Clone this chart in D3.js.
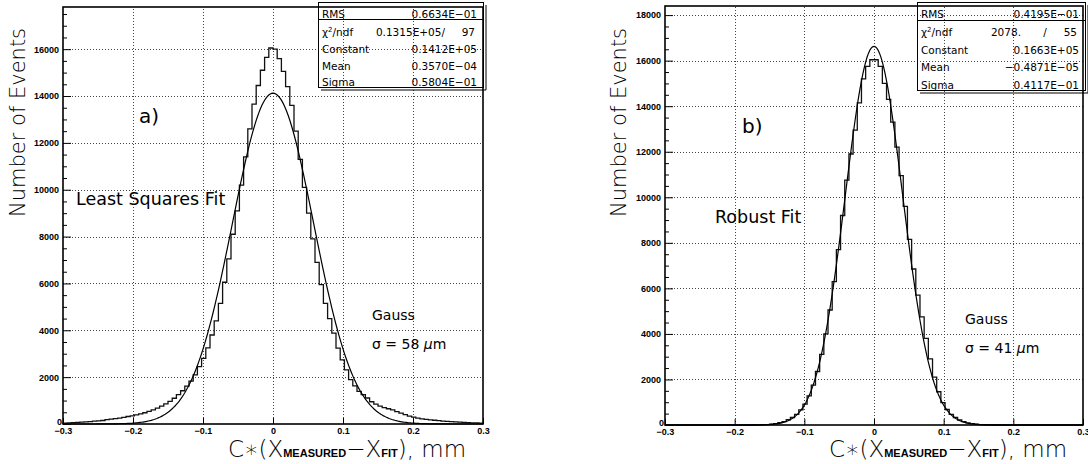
<!DOCTYPE html>
<html>
<head>
<meta charset="utf-8">
<script src="https://cdn.jsdelivr.net/npm/d3@7"></script>
<style>
body { margin: 0; background: #fff; }
svg { display: block; font-family: "DejaVu Sans", sans-serif; }
</style>
</head>
<body>
<div id="root"></div>
<script>
// histogram binning: 100 bins over [-0.3, 0.3]
var binLow = -0.3, binHigh = 0.3, binWidth = 0.006;

var xTicks = [-0.3, -0.2, -0.1, 0, 0.1, 0.2, 0.3];
var xTickLabels = ["\u22120.3", "\u22120.2", "\u22120.1", "0", "0.1", "0.2", "0.3"];
var leftYTicks = [0, 2000, 4000, 6000, 8000, 10000, 12000, 14000, 16000];
var rightYTicks = [0, 2000, 4000, 6000, 8000, 10000, 12000, 14000, 16000, 18000];

// a) least squares residuals
var leftCounts = [
  40, 50, 60, 70, 80, 90, 100, 120, 130, 150,
  190, 210, 230, 250, 280, 320, 350, 390, 430, 480,
  540, 600, 680, 760, 860, 970, 1100, 1250, 1420, 1620,
  1830, 2100, 2450, 2800, 3250, 3800, 4400, 5150, 6050, 7050,
  8100, 9100, 10200, 11400, 12600, 13650, 14450, 15100, 15650, 16050,
  16000, 15600, 15050, 14400, 13600, 12500, 11300, 10100, 9000, 7900,
  6900, 5950, 5150, 4500, 3880, 3240, 2740, 2310, 1890, 1630,
  1390, 1250, 1110, 950, 850, 760, 700, 650, 600, 530,
  460, 400, 340, 290, 250, 220, 200, 180, 160, 140,
  120, 110, 100, 90, 80, 70, 60, 50, 45, 40
];

// b) robust fit residuals
var rightCounts = [
  0, 0, 0, 0, 0, 0, 0, 0, 0, 0,
  0, 0, 0, 0, 0, 0, 0, 0, 0, 0,
  0, 0, 5, 10, 20, 35, 60, 100, 150, 230,
  330, 470, 660, 920, 1280, 1750, 2350, 3100, 4000, 5050,
  6300, 7700, 9200, 10750, 11900, 12950, 14150, 15200, 15750, 16040,
  16040, 15750, 15000, 14300, 13300, 12200, 10950, 9600, 8150, 6850,
  5700, 4750, 3800, 2900, 2100, 1460, 980, 680, 470, 330,
  220, 150, 95, 60, 35, 20, 10, 5, 0, 0,
  0, 0, 0, 0, 0, 0, 0, 0, 0, 0,
  0, 0, 0, 0, 0, 0, 0, 0, 0, 0
];

// Gaussian fit parameters shown in the stat boxes: constant, mean, sigma
var leftFit = [14120, 0.0000357, 0.05804];
var rightFit = [16630, -0.000004871, 0.04117];

var statLabels = ["RMS", "\u03c7\u00b2/ndf", "Constant", "Mean", "Sigma"];
var leftStatValues = ["0.6634E\u221201", "0.1315E+05/", "0.1412E+05", "0.3570E\u221204", "0.5804E\u221201"];
var leftNdf = "97";
var rightStatValues = ["0.4195E\u221201", "2078.", "0.1663E+05", "\u22120.4871E\u221205", "0.4117E\u221201"];
var rightNdf = "55";

var w = 1088, h = 464;
var svg = d3.select("#root").append("svg").attr("width", w).attr("height", h);

var panels = [
  { left: 63, right: 483, top: 7, bottom: 424, ymax: 17800, yTicks: leftYTicks,
    counts: leftCounts, fit: leftFit, tag: "a)", tagX: 139, tagY: 123,
    method: "Least Squares Fit", methodX: 76, methodY: 205,
    gaussX: 372, gaussY: 320, sigmaText: "58",
    box: { x: 318, y: 2, w: 165, h: 85, rows: [14, 32, 49, 66, 82], line: 19 },
    chiEnd: 38, slashAt: 0,
    stats: leftStatValues, ndf: leftNdf, ytitleX: 25, xtitleX: 228 },
  { left: 665, right: 1083, top: 6, bottom: 425, ymax: 18400, yTicks: rightYTicks,
    counts: rightCounts, fit: rightFit, tag: "b)", tagX: 742, tagY: 133,
    method: "Robust Fit", methodX: 715, methodY: 223,
    gaussX: 965, gaussY: 324, sigmaText: "41",
    box: { x: 917, y: 2, w: 168, h: 88, rows: [14, 32, 50, 67, 85], line: 20 },
    chiEnd: 64, slashAt: 40,
    stats: rightStatValues, ndf: rightNdf, ytitleX: 626, xtitleX: 829 }
];

panels.forEach(function(p) {
  var x = d3.scaleLinear().domain([binLow, binHigh]).range([p.left, p.right]);
  var y = d3.scaleLinear().domain([0, p.ymax]).range([p.bottom, p.top]);
  var g = svg.append("g");

  // dotted grid
  g.selectAll(".vgrid").data(xTicks.slice(1, -1)).enter().append("line")
    .attr("x1", function(d) { return Math.round(x(d)) + 0.5; })
    .attr("x2", function(d) { return Math.round(x(d)) + 0.5; })
    .attr("y1", p.bottom).attr("y2", p.top)
    .attr("stroke", "#444").attr("stroke-dasharray", "1,2");
  g.selectAll(".hgrid").data(p.yTicks.slice(1)).enter().append("line")
    .attr("x1", p.left).attr("x2", p.right)
    .attr("y1", function(d) { return Math.round(y(d)) + 0.5; })
    .attr("y2", function(d) { return Math.round(y(d)) + 0.5; })
    .attr("stroke", "#444").attr("stroke-dasharray", "1,2");

  // histogram outline
  var pts = p.counts.map(function(c, i) { return [binLow + i * binWidth, c]; });
  pts.unshift([binLow, 0]);
  pts.push([binHigh, p.counts[p.counts.length - 1]]);
  var step = d3.line()
    .x(function(d) { return x(d[0]); })
    .y(function(d) { return y(d[1]); })
    .curve(d3.curveStepAfter);
  g.append("path").attr("d", step(pts))
    .attr("fill", "none").attr("stroke", "#111").attr("stroke-width", 1.3);

  // gaussian fit curve from the displayed parameters
  var fx = d3.range(-0.3, 0.3001, 0.002);
  var fitLine = d3.line()
    .x(function(d) { return x(d); })
    .y(function(d) {
      var z = (d - p.fit[1]) / p.fit[2];
      return y(p.fit[0] * Math.exp(-0.5 * z * z));
    });
  g.append("path").attr("d", fitLine(fx))
    .attr("fill", "none").attr("stroke", "#000").attr("stroke-width", 1.2);

  // axes: ticks inward, bold small labels
  var xAxis = d3.axisBottom(x).tickValues(xTicks)
    .tickFormat(function(d, i) { return xTickLabels[i]; })
    .tickSize(-6).tickPadding(4);
  var gx = g.append("g").attr("transform", "translate(0," + p.bottom + ")").call(xAxis);
  var yAxis = d3.axisLeft(y).tickValues(p.yTicks).tickFormat(d3.format("d"))
    .tickSize(-8).tickPadding(4);
  var gy = g.append("g").attr("transform", "translate(" + p.left + ",0)").call(yAxis);
  var minor = d3.range(500, p.ymax, 500).filter(function(v) { return v % 2000 !== 0; });
  g.append("g").attr("transform", "translate(" + p.left + ",0)")
    .call(d3.axisLeft(y).tickValues(minor).tickSize(-4).tickFormat(""))
    .select(".domain").remove();
  [gx, gy].forEach(function(a) {
    a.select(".domain").remove();
    a.selectAll("line").attr("stroke", "#000");
    a.selectAll("text").attr("font-family", "'Liberation Sans', Arial, sans-serif")
      .attr("font-weight", "bold").attr("font-size", 9).attr("fill", "#000");
  });
  gy.selectAll(".tick").filter(function(d) { return d === 0; }).select("text")
    .attr("x", -1).attr("dy", "0em");

  // frame
  g.append("rect").attr("x", p.left).attr("y", p.top)
    .attr("width", p.right - p.left).attr("height", p.bottom - p.top)
    .attr("fill", "none").attr("stroke", "#000").attr("stroke-width", 1.6);

  // stat box (transparent, with shadow edge)
  var b = p.box;
  g.append("rect").attr("x", b.x + 0.5).attr("y", b.y + 0.5).attr("width", b.w).attr("height", b.h)
    .attr("fill", "none").attr("stroke", "#000").attr("stroke-width", 1);
  g.append("polyline")
    .attr("points", (b.x + b.w + 3) + "," + (b.y + 3) + " " + (b.x + b.w + 3) + "," + (b.y + b.h + 3) + " " + (b.x + 3) + "," + (b.y + b.h + 3))
    .attr("fill", "none").attr("stroke", "#000").attr("stroke-width", 1);
  g.append("line").attr("x1", b.x).attr("x2", b.x + b.w).attr("y1", b.line + 0.5).attr("y2", b.line + 0.5)
    .attr("stroke", "#000");
  statLabels.forEach(function(lab, i) {
    var t = g.append("text").attr("x", b.x + 4).attr("y", b.rows[i] + 4)
      .attr("font-size", 10.5).attr("fill", "#000");
    if (i === 1) {
      t.append("tspan").text("\u03c7");
      t.append("tspan").attr("font-size", 7).attr("dy", -4).text("2");
      t.append("tspan").attr("dy", 4).text("/ndf");
    } else {
      t.text(lab);
    }
    var vx = (i === 1) ? b.x + b.w - p.chiEnd : b.x + b.w - 6;
    g.append("text").attr("x", vx).attr("y", b.rows[i] + 4)
      .attr("text-anchor", "end").attr("font-size", 10.5).attr("fill", "#000")
      .text(p.stats[i]);
  });
  if (p.slashAt) {
    g.append("text").attr("x", b.x + b.w - p.slashAt).attr("y", b.rows[1] + 4)
      .attr("text-anchor", "middle").attr("font-size", 10.5).text("/");
  }
  g.append("text").attr("x", b.x + b.w - 8).attr("y", b.rows[1] + 4)
    .attr("text-anchor", "end").attr("font-size", 10.5).text(p.ndf);

  // annotations
  g.append("text").attr("x", p.tagX).attr("y", p.tagY).attr("font-size", 20).attr("fill", "#000").text(p.tag);
  g.append("text").attr("x", p.methodX).attr("y", p.methodY).attr("font-size", 17.5).attr("fill", "#000").text(p.method);
  g.append("text").attr("x", p.gaussX).attr("y", p.gaussY).attr("font-size", 14).text("Gauss");
  var s = g.append("text").attr("x", p.gaussX).attr("y", p.gaussY + 29).attr("font-size", 14);
  s.append("tspan").text("\u03c3 = " + p.sigmaText + " ");
  s.append("tspan").attr("font-style", "italic").text("\u03bc");
  s.append("tspan").text("m");

  // axis titles
  g.append("text").attr("transform", "translate(" + p.ytitleX + "," + 217 + ") rotate(-90)")
    .attr("font-size", 21).attr("font-weight", 200).attr("fill", "#000").text("Number of Events");
  var xt = g.append("text").attr("x", p.xtitleX).attr("y", 457)
    .attr("font-size", 23).attr("font-weight", 200).attr("fill", "#000");
  xt.append("tspan").text("C\u2217(X");
  xt.append("tspan").attr("font-size", 11).attr("font-weight", "bold").attr("font-family", "'Liberation Sans', Arial, sans-serif").text("MEASURED");
  xt.append("tspan").text("\u2212X");
  xt.append("tspan").attr("font-size", 11).attr("font-weight", "bold").attr("font-family", "'Liberation Sans', Arial, sans-serif").text("FIT");
  xt.append("tspan").text("), mm");
});
</script>
</body>
</html>
